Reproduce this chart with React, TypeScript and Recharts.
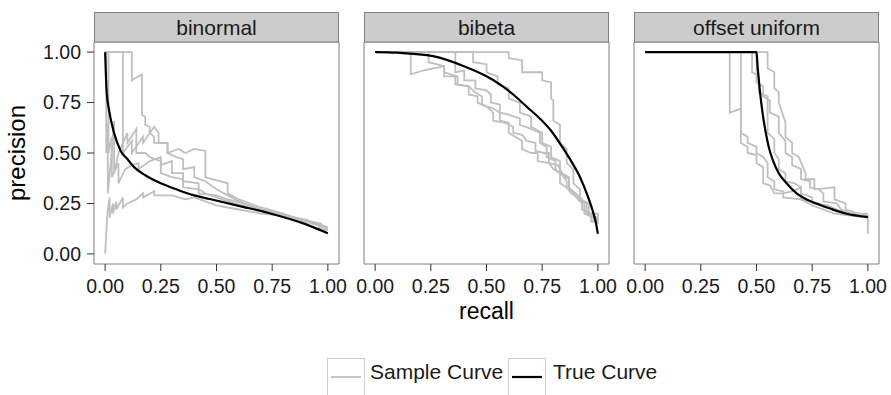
import React from "react";
import { LineChart, Line, XAxis, YAxis, ReferenceArea } from "recharts";

const recallTicks = [0, 0.25, 0.5, 0.75, 1];
const precisionTicks = [0, 0.25, 0.5, 0.75, 1];
const panelNames = ["binormal", "bibeta", "offset uniform"];
const legendLabels = ["Sample Curve", "True Curve"];

// every point is [recall, precision]
const binormalTrue = [
  [0, 1], [0.003, 0.9], [0.007, 0.8], [0.018, 0.71], [0.04, 0.6], [0.07, 0.51],
  [0.1, 0.47], [0.13, 0.43], [0.18, 0.39], [0.25, 0.35], [0.32, 0.32], [0.4, 0.29],
  [0.47, 0.272], [0.6, 0.238], [0.75, 0.198], [0.88, 0.155], [1, 0.102],
];

const binormalSamples = [
  [[0, 1], [0.12, 1], [0.12, 0.86], [0.165, 0.89], [0.165, 0.69], [0.18, 0.68], [0.18, 0.64],
   [0.2, 0.63], [0.2, 0.6], [0.22, 0.58], [0.22, 0.55], [0.28, 0.55], [0.28, 0.5], [0.33, 0.52],
   [0.36, 0.5], [0.4, 0.52], [0.45, 0.51], [0.45, 0.38], [0.48, 0.37], [0.55, 0.35], [0.55, 0.3],
   [0.6, 0.27], [0.7, 0.23], [0.8, 0.2], [0.88, 0.17], [0.97, 0.15], [0.97, 0.12], [1, 0.12]],
  [[0, 1], [0.08, 1], [0.08, 0.5], [0.12, 0.56], [0.12, 0.5], [0.17, 0.58], [0.17, 0.55],
   [0.22, 0.63], [0.24, 0.6], [0.24, 0.55], [0.28, 0.55], [0.28, 0.5], [0.32, 0.48], [0.35, 0.47],
   [0.35, 0.42], [0.4, 0.43], [0.4, 0.38], [0.45, 0.36], [0.5, 0.32], [0.55, 0.29], [0.62, 0.25],
   [0.7, 0.22], [0.78, 0.2], [0.88, 0.17], [1, 0.13]],
  [[0, 1], [0.015, 1], [0.015, 0.5], [0.03, 0.58], [0.03, 0.38], [0.06, 0.45], [0.06, 0.35],
   [0.09, 0.42], [0.12, 0.44], [0.15, 0.45], [0.15, 0.42], [0.2, 0.46], [0.25, 0.48], [0.25, 0.44],
   [0.3, 0.46], [0.3, 0.4], [0.35, 0.4], [0.35, 0.36], [0.42, 0.35], [0.42, 0.3], [0.5, 0.29],
   [0.55, 0.27], [0.62, 0.25], [0.7, 0.22], [0.8, 0.19], [0.9, 0.16], [0.96, 0.14], [0.96, 0.12], [1, 0.12]],
  [[0, 0], [0.01, 0.2], [0.02, 0.28], [0.02, 0.18], [0.035, 0.25], [0.035, 0.2], [0.05, 0.26],
   [0.05, 0.22], [0.08, 0.28], [0.08, 0.23], [0.1, 0.25], [0.14, 0.27], [0.17, 0.3], [0.17, 0.28],
   [0.22, 0.31], [0.22, 0.29], [0.3, 0.29], [0.36, 0.27], [0.4, 0.28], [0.45, 0.26], [0.5, 0.24],
   [0.55, 0.23], [0.6, 0.22], [0.7, 0.2], [0.8, 0.19], [0.9, 0.17], [0.98, 0.14], [1, 0.13]],
  [[0, 1], [0.005, 1], [0.005, 0.5], [0.012, 0.65], [0.012, 0.3], [0.025, 0.45], [0.04, 0.66],
   [0.04, 0.4], [0.06, 0.5], [0.08, 0.55], [0.1, 0.6], [0.1, 0.55], [0.14, 0.62], [0.14, 0.5],
   [0.18, 0.5], [0.2, 0.48], [0.25, 0.46], [0.25, 0.4], [0.3, 0.38], [0.35, 0.37], [0.35, 0.33],
   [0.42, 0.32], [0.45, 0.3], [0.5, 0.28], [0.58, 0.25], [0.65, 0.23], [0.75, 0.21], [0.85, 0.18],
   [0.95, 0.15], [1, 0.12]],
];

const bibetaTrue = [
  [0, 1], [0.1, 0.997], [0.26, 0.98], [0.41, 0.925], [0.5, 0.88], [0.56, 0.84], [0.62, 0.79],
  [0.68, 0.73], [0.74, 0.67], [0.79, 0.61], [0.84, 0.53], [0.88, 0.46], [0.92, 0.38],
  [0.95, 0.3], [0.975, 0.22], [0.99, 0.16], [1, 0.1],
];

const bibetaSamples = [
  [[0, 1], [0.6, 1], [0.6, 0.97], [0.66, 0.96], [0.66, 0.9], [0.75, 0.9], [0.75, 0.86], [0.79, 0.85],
   [0.79, 0.77], [0.8, 0.76], [0.8, 0.66], [0.83, 0.64], [0.83, 0.55], [0.86, 0.52], [0.86, 0.45],
   [0.89, 0.42], [0.89, 0.35], [0.92, 0.32], [0.92, 0.27], [0.96, 0.25], [0.96, 0.2], [1, 0.2], [1, 0.16]],
  [[0, 1], [0.44, 1], [0.44, 0.95], [0.5, 0.94], [0.5, 0.9], [0.55, 0.88], [0.55, 0.84], [0.6, 0.82],
   [0.6, 0.77], [0.65, 0.75], [0.65, 0.7], [0.7, 0.68], [0.7, 0.63], [0.75, 0.6], [0.75, 0.55],
   [0.79, 0.53], [0.79, 0.48], [0.83, 0.46], [0.83, 0.4], [0.87, 0.37], [0.87, 0.32], [0.9, 0.3],
   [0.92, 0.27], [0.95, 0.25], [0.95, 0.2], [1, 0.18], [1, 0.15]],
  [[0, 1], [0.36, 1], [0.36, 0.9], [0.4, 0.91], [0.4, 0.86], [0.45, 0.86], [0.45, 0.82], [0.5, 0.81],
   [0.52, 0.79], [0.52, 0.75], [0.56, 0.74], [0.56, 0.7], [0.6, 0.69], [0.65, 0.67], [0.65, 0.64],
   [0.7, 0.62], [0.74, 0.6], [0.74, 0.55], [0.77, 0.53], [0.77, 0.48], [0.81, 0.46], [0.81, 0.42],
   [0.84, 0.39], [0.86, 0.36], [0.86, 0.33], [0.89, 0.3], [0.91, 0.27], [0.93, 0.25], [0.93, 0.22],
   [0.97, 0.2], [0.97, 0.16], [1, 0.16]],
  [[0, 1], [0.24, 1], [0.24, 0.95], [0.31, 0.93], [0.31, 0.9], [0.37, 0.88], [0.37, 0.84], [0.42, 0.83],
   [0.45, 0.8], [0.48, 0.78], [0.48, 0.74], [0.53, 0.72], [0.56, 0.7], [0.56, 0.66], [0.6, 0.65],
   [0.6, 0.6], [0.63, 0.58], [0.66, 0.56], [0.66, 0.52], [0.7, 0.5], [0.73, 0.5], [0.73, 0.46],
   [0.78, 0.45], [0.8, 0.42], [0.83, 0.4], [0.83, 0.35], [0.86, 0.33], [0.88, 0.3], [0.91, 0.28],
   [0.94, 0.25], [0.94, 0.2], [0.98, 0.18], [1, 0.17]],
  [[0, 1], [0.16, 1], [0.16, 0.89], [0.22, 0.91], [0.31, 0.93], [0.31, 0.88], [0.36, 0.88],
   [0.36, 0.84], [0.42, 0.83], [0.42, 0.79], [0.46, 0.78], [0.46, 0.75], [0.5, 0.73], [0.53, 0.7],
   [0.53, 0.66], [0.58, 0.65], [0.62, 0.63], [0.62, 0.6], [0.66, 0.59], [0.68, 0.56], [0.72, 0.55],
   [0.72, 0.51], [0.76, 0.5], [0.78, 0.5], [0.78, 0.45], [0.82, 0.44], [0.84, 0.4], [0.87, 0.38],
   [0.87, 0.33], [0.9, 0.3], [0.93, 0.27], [0.93, 0.22], [0.96, 0.2], [0.98, 0.2], [0.98, 0.16], [1, 0.17]],
];

const uniformTrue = [
  [0, 1], [0.5, 1], [0.505, 0.93], [0.516, 0.8], [0.527, 0.7], [0.54, 0.61], [0.555, 0.53],
  [0.575, 0.46], [0.6, 0.4], [0.635, 0.35], [0.68, 0.3], [0.725, 0.27], [0.78, 0.245],
  [0.83, 0.225], [0.9, 0.2], [1, 0.182],
];

const uniformSamples = [
  [[0, 1], [0.38, 1], [0.38, 0.7], [0.43, 0.72], [0.43, 0.55], [0.46, 0.53], [0.46, 0.5], [0.5, 0.49],
   [0.5, 0.45], [0.53, 0.43], [0.53, 0.35], [0.56, 0.34], [0.58, 0.3], [0.62, 0.3], [0.66, 0.31],
   [0.7, 0.33], [0.7, 0.27], [0.78, 0.25], [0.85, 0.22], [0.92, 0.2], [1, 0.19], [1, 0.1]],
  [[0, 1], [0.43, 1], [0.43, 0.6], [0.46, 0.58], [0.46, 0.55], [0.5, 0.53], [0.5, 0.5], [0.53, 0.48],
   [0.55, 0.45], [0.55, 0.38], [0.58, 0.36], [0.58, 0.32], [0.62, 0.31], [0.62, 0.28], [0.7, 0.27],
   [0.75, 0.24], [0.8, 0.22], [0.85, 0.2], [0.92, 0.19], [1, 0.18]],
  [[0, 1], [0.5, 1], [0.5, 0.85], [0.53, 0.83], [0.53, 0.78], [0.56, 0.76], [0.56, 0.7], [0.6, 0.68],
   [0.6, 0.6], [0.63, 0.56], [0.63, 0.5], [0.66, 0.48], [0.66, 0.44], [0.7, 0.42], [0.7, 0.37],
   [0.74, 0.36], [0.74, 0.33], [0.78, 0.32], [0.8, 0.3], [0.8, 0.26], [0.86, 0.25], [0.88, 0.22],
   [0.93, 0.2], [1, 0.19]],
  [[0, 1], [0.55, 1], [0.55, 0.92], [0.58, 0.9], [0.58, 0.82], [0.6, 0.8], [0.6, 0.75], [0.63, 0.65],
   [0.63, 0.58], [0.66, 0.55], [0.66, 0.5], [0.69, 0.48], [0.72, 0.4], [0.72, 0.37], [0.76, 0.37],
   [0.76, 0.32], [0.85, 0.33], [0.85, 0.27], [0.9, 0.25], [0.9, 0.22], [0.96, 0.2], [1, 0.2]],
  [[0, 1], [0.48, 1], [0.48, 0.9], [0.51, 0.88], [0.51, 0.8], [0.55, 0.78], [0.55, 0.6], [0.58, 0.57],
   [0.58, 0.5], [0.6, 0.47], [0.6, 0.42], [0.63, 0.4], [0.63, 0.36], [0.67, 0.35], [0.7, 0.33],
   [0.7, 0.3], [0.75, 0.28], [0.75, 0.25], [0.82, 0.24], [0.88, 0.21], [0.95, 0.19], [1, 0.18]],
];

const toPoints = (pts: number[][]) => pts.map(([recall, precision]) => ({ recall, precision }));
const fmt = (v: number) => v.toFixed(2);

const FONT = '"Liberation Sans", Arial, Helvetica, sans-serif';
const SAMPLE = "#bfbfbf";
const PLOT_TOP = 42;
const PLOT_H = 222;
const PLOT_W = 245;

function Panel({ left, marginLeft, marginRight, showY, samples, truth }: any) {
  const yw = showY ? 94 : 0;
  const width = marginLeft + yw + PLOT_W + marginRight;
  return (
    <div style={{ position: "absolute", left, top: 0 }}>
      <LineChart
        width={width}
        height={PLOT_TOP + PLOT_H + 36}
        margin={{ top: PLOT_TOP, right: marginRight, left: marginLeft, bottom: 0 }}
      >
        <XAxis
          type="number"
          dataKey="recall"
          domain={[-0.05, 1.05]}
          ticks={recallTicks}
          tickFormatter={fmt}
          interval={0}
          axisLine={false}
          tickLine={{ stroke: "#333333" }}
          tickSize={7}
          tickMargin={8}
          height={36}
          tick={{ fill: "#1a1a1a", fontSize: 19.5 }}
        />
        <YAxis
          type="number"
          domain={[-0.05, 1.05]}
          ticks={precisionTicks}
          tickFormatter={fmt}
          interval={0}
          hide={!showY}
          width={94}
          axisLine={false}
          tickLine={{ stroke: "#333333" }}
          tickSize={7}
          tickMargin={6}
          tick={{ fill: "#1a1a1a", fontSize: 19.5 }}
        />
        <ReferenceArea x1={-0.05} x2={1.05} y1={-0.05} y2={1.05} fill="none" stroke="#7f7f7f" ifOverflow="visible" />
        {samples.map((s: number[][], i: number) => (
          <Line
            key={i}
            data={toPoints(s)}
            dataKey="precision"
            type="linear"
            stroke={SAMPLE}
            strokeWidth={1.8}
            dot={false}
            activeDot={false}
            isAnimationActive={false}
          />
        ))}
        <Line
          data={toPoints(truth)}
          dataKey="precision"
          type="monotone"
          stroke="#000000"
          strokeWidth={2.2}
          dot={false}
          activeDot={false}
          isAnimationActive={false}
        />
      </LineChart>
    </div>
  );
}

export default function App() {
  const stripLefts = [94, 364, 634];
  return (
    <div style={{ position: "absolute", left: 0, top: 0, width: 891, height: 395, background: "#fff", fontFamily: FONT, overflow: "hidden" }}>
      <Panel left={0} marginLeft={0} marginRight={20} showY samples={binormalSamples} truth={binormalTrue} />
      <Panel left={344} marginLeft={20} marginRight={25} showY={false} samples={bibetaSamples} truth={bibetaTrue} />
      <Panel left={614} marginLeft={20} marginRight={12} showY={false} samples={uniformSamples} truth={uniformTrue} />
      <svg width={891} height={395} style={{ position: "absolute", left: 0, top: 0, pointerEvents: "none", fontFamily: FONT }}>
        {panelNames.map((name, i) => (
          <g key={name}>
            <rect x={stripLefts[i] + 0.5} y={12.5} width={PLOT_W - 1} height={29.5} fill="#cccccc" stroke="#7f7f7f" />
            <text x={stripLefts[i] + PLOT_W / 2} y={35} textAnchor="middle" fontSize={21} fill="#1a1a1a">{name}</text>
          </g>
        ))}
        <text x={486.5} y={319} textAnchor="middle" fontSize={23} fill="#000">recall</text>
        <text transform="translate(25,153) rotate(-90)" textAnchor="middle" fontSize={24} fill="#000">precision</text>
        <rect x={327.5} y={358.5} width={37} height={37} fill="#fff" stroke="#cccccc" />
        <line x1={331} x2={361} y1={377} y2={377} stroke={SAMPLE} strokeWidth={1.8} />
        <text x={370} y={378.5} fontSize={21} fill="#1a1a1a">{legendLabels[0]}</text>
        <rect x={508.5} y={358.5} width={37} height={37} fill="#fff" stroke="#cccccc" />
        <line x1={512} x2={542} y1={377} y2={377} stroke="#000" strokeWidth={2.2} />
        <text x={553} y={378.5} fontSize={21} fill="#1a1a1a">{legendLabels[1]}</text>
      </svg>
    </div>
  );
}
